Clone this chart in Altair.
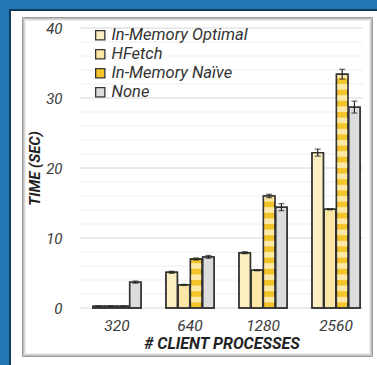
import altair as alt
import pandas as pd

# Bar groups and series
categories = ["320", "640", "1280", "2560"]
series = ["In-Memory Optimal", "HFetch", "In-Memory Naïve", "None"]

# Mean run time (s) for each series, one value per client-process count
optimal = [0.25, 5.1, 7.9, 22.2]
hfetch = [0.25, 3.3, 5.4, 14.1]
naive = [0.25, 7.0, 16.0, 33.4]
none = [3.7, 7.3, 14.4, 28.7]

# Half-width of the error bars
optimal_err = [0.05, 0.15, 0.15, 0.5]
hfetch_err = [0.05, 0.08, 0.08, 0.08]
naive_err = [0.05, 0.15, 0.25, 0.7]
none_err = [0.15, 0.2, 0.5, 0.85]

y_ticks = [0, 10, 20, 30, 40]
grid_minor = list(range(0, 41, 2))

colors = ["#fcefc2", "#fbe6a6", "#f3c52a", "#dcdcdc"]
stripe_light = "#fce9a6"
outline = "#333333"
font = "Roboto"

rows = []
for s, vals, errs in [
    (series[0], optimal, optimal_err),
    (series[1], hfetch, hfetch_err),
    (series[2], naive, naive_err),
    (series[3], none, none_err),
]:
    for c, v, e in zip(categories, vals, errs):
        rows.append({"cat": c, "series": s, "value": v, "lo": v - e, "hi": v + e})
df = pd.DataFrame(rows)

# Light bands across the striped "In-Memory Naive" bars
stripe_rows = []
period = 1.6
for c, v in zip(categories, naive):
    k = 0
    while k * period + period / 2 < v:
        stripe_rows.append({
            "cat": c, "series": series[2],
            "lo": k * period + period / 2,
            "hi": min((k + 1) * period, v),
        })
        k += 1
stripes = pd.DataFrame(stripe_rows)

grid = pd.DataFrame({"g": grid_minor, "major": [g % 10 == 0 for g in grid_minor]})

x_enc = alt.X("cat:N", scale=alt.Scale(domain=categories, paddingInner=0.34,
                                       paddingOuter=0.108, align=0.82),
              axis=alt.Axis(title="# CLIENT PROCESSES", labelAngle=0,
                            labelFontSize=15.5, labelFontStyle="italic",
                            labelPadding=10, titlePadding=2,
                            titleFontSize=16, titleFontStyle="italic",
                            titleFontWeight="bold", zindex=2))
xo_enc = alt.XOffset("series:N", scale=alt.Scale(domain=series, paddingInner=0.06))
y_scale = alt.Scale(domain=[0, 40], nice=False)

one = pd.DataFrame({"k": [0]})


def frame_rect(color, x1, x2, y1, y2, fill=True, sw=1):
    if fill:
        m = alt.Chart(one).mark_rect(color=color)
    else:
        m = alt.Chart(one).mark_rect(fillOpacity=0, stroke=color, strokeWidth=sw)
    return m.encode(x=alt.value(x1), x2=alt.value(x2), y=alt.value(y1), y2=alt.value(y2))


# Page frame: dark edge, white card, inset shadowed panel
frame = [
    frame_rect("#123c5c", -71, 300, -19, 340),
    frame_rect("#ffffff", -69, 300, -17, 340),
    frame_rect("#9c9c9c", -57.5, 292.5, -10.5, 328.5, fill=False),
    frame_rect("#bcbcbc", -56.5, 291.5, -9.5, 327.5, fill=False),
    frame_rect("#d8d8d8", -55.5, 290.5, -8.5, 326.5, fill=False),
    frame_rect("#ededed", -54.5, 289.5, -7.5, 325.5, fill=False),
]

gridlines = alt.Chart(grid).mark_rule(strokeWidth=1).encode(
    y=alt.Y("g:Q", scale=y_scale),
    color=alt.condition("datum.major", alt.value("#d6d6d6"), alt.value("#eeeeee")),
)

bars = alt.Chart(df).mark_bar(stroke=outline, strokeWidth=1.4, cornerRadius=0).encode(
    x=x_enc,
    xOffset=xo_enc,
    y=alt.Y("value:Q", scale=y_scale,
            axis=alt.Axis(title="TIME (SEC)", values=y_ticks, labelFontSize=15,
                          labelFontStyle="italic", labelPadding=18,
                          titleFontSize=15, titleFontStyle="italic",
                          titleFontWeight="bold", titlePadding=3, zindex=2)),
    color=alt.Color("series:N", scale=alt.Scale(domain=series, range=colors),
                    legend=alt.Legend(title=None, orient="none", legendX=12, legendY=-1,
                                      symbolType="square", symbolSize=85,
                                      symbolStrokeColor=outline, symbolStrokeWidth=1.3,
                                      labelFont=font, labelFontStyle="italic",
                                      labelFontSize=16.5, labelColor="#333333",
                                      labelOffset=3, rowPadding=2, padding=0)),
)

stripe_layer = alt.Chart(stripes).mark_bar(color=stripe_light).encode(
    x=alt.X("cat:N", scale=alt.Scale(domain=categories)),
    xOffset=xo_enc,
    y=alt.Y("lo:Q", scale=y_scale),
    y2="hi:Q",
)

outlines = alt.Chart(df).mark_bar(fillOpacity=0, stroke=outline, strokeWidth=1.4).encode(
    x=alt.X("cat:N"),
    xOffset=xo_enc,
    y=alt.Y("value:Q", scale=y_scale),
)

err_rule = alt.Chart(df).mark_rule(color="#222222", strokeWidth=1.2).encode(
    x=alt.X("cat:N"), xOffset=xo_enc,
    y=alt.Y("lo:Q", scale=y_scale), y2="hi:Q",
)
cap_lo = alt.Chart(df).mark_tick(color="#222222", size=6, thickness=1.2,
                                 orient="horizontal").encode(
    x=alt.X("cat:N"), xOffset=xo_enc, y=alt.Y("lo:Q", scale=y_scale))
cap_hi = alt.Chart(df).mark_tick(color="#222222", size=6, thickness=1.2,
                                 orient="horizontal").encode(
    x=alt.X("cat:N"), xOffset=xo_enc, y=alt.Y("hi:Q", scale=y_scale))

chart = alt.layer(
    *frame, gridlines, bars, stripe_layer, outlines, err_rule, cap_lo, cap_hi
).properties(
    width=283, height=280,
    autosize=alt.AutoSizeParams(type="none"),
    padding={"left": 80, "top": 28, "right": 14, "bottom": 57},
    background="#2277b2",
).configure_view(
    stroke=None,
).configure_axis(
    domain=False, ticks=False, grid=False,
    labelFont=font, titleFont=font,
    labelColor="#3a3a3a", titleColor="#222222",
)

chart.save("out.html", embed_options={"renderer": "svg", "actions": False})
